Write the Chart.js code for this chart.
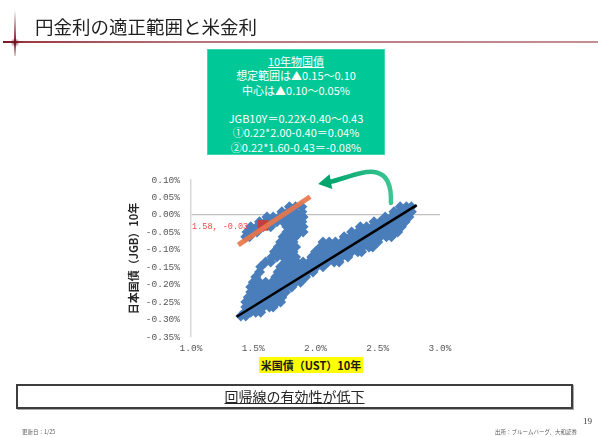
<!DOCTYPE html>
<html lang="ja">
<head>
<meta charset="utf-8">
<title>円金利の適正範囲と米金利</title>
<script src="https://cdn.jsdelivr.net/npm/chart.js@4.4.1/dist/chart.umd.min.js"></script>
<style>
    html, body { margin: 0; padding: 0; background: #fff; }
    #slide {
        position: relative; width: 598px; height: 437px; overflow: hidden;
        font-family: "Noto Sans CJK JP", "Noto Sans", sans-serif; color: #1f1f1f;
    }
    #scatter { position: absolute; left: 0; top: 0; }
    .rule-h {
        position: absolute; left: 3px; top: 41px; width: 595px; height: 2px;
        background: linear-gradient(to right, #7a1424 0%, #9c3a45 4%, #b7727a 30%, #c48f95 100%);
    }
    .rule-v {
        position: absolute; left: 14px; top: 10px; width: 2px; height: 46px;
        background: linear-gradient(to bottom, rgba(122,20,36,0) 0%, rgba(122,20,36,0.55) 40%, #7a1424 70%, rgba(122,20,36,0.2) 100%);
        filter: blur(0.4px);
    }
    .rule-glow {
        position: absolute; left: 10px; top: 38px; width: 10px; height: 9px; border-radius: 50%;
        background: radial-gradient(circle, rgba(110,15,30,0.85) 0%, rgba(110,15,30,0) 70%);
    }
    #title {
        position: absolute; left: 35px; top: 15px; margin: 0;
        font-size: 18.5px; font-weight: 400; line-height: 1.2; color: #1f1f1f;
    }
    #note {
        position: absolute; left: 207px; top: 49px; width: 178px; height: 106px;
        box-sizing: border-box; padding-top: 5px;
        background: #00C896; color: #fff; text-align: center;
        font-size: 11px; line-height: 14.3px;
        box-shadow: inset 0 0 0 1px rgba(255,255,255,0.25);
    }
    #note .head { text-decoration: underline; }
    #xTitle {
        position: absolute; left: 259px; top: 357px; width: 104px; height: 16px;
        background: #FFFF00; text-align: center;
        font-size: 11px; font-weight: 700; line-height: 16px; color: #1a1a1a;
    }
    #summary {
        position: absolute; left: 16px; top: 384px; width: 557px; height: 25px;
        box-sizing: border-box; border: 2px solid #3d3d3d; text-align: center;
        font-size: 14px; line-height: 21px; color: #262626;
        box-shadow: 1px 1px 0 #a8a8a8;
    }
    #summary span { text-decoration: underline; }
    #updated, #source {
        position: absolute; top: 429px; font-size: 5.5px; line-height: 7px; color: #5a5a5a;
    }
    #updated { left: 22px; }
    #source { right: 21px; }
    #page {
        position: absolute; left: 583px; top: 416px;
        font-family: "Liberation Serif", "DejaVu Serif", serif; font-size: 9px; color: #3a3a3a;
    }
</style>
</head>
<body>
<div id="slide">
    <canvas id="scatter" width="598" height="437"></canvas>
    <div class="rule-h"></div>
    <div class="rule-v"></div>
    <div class="rule-glow"></div>
    <h1 id="title">円金利の適正範囲と米金利</h1>
    <div id="note">
        <div class="head">10年物国債</div>
        <div>想定範囲は▲0.15～0.10</div>
        <div>中心は▲0.10～0.05%</div>
        <div>&nbsp;</div>
        <div>JGB10Y＝0.22X-0.40～0.43</div>
        <div>①0.22*2.00-0.40＝0.04%</div>
        <div>②0.22*1.60-0.43＝-0.08%</div>
    </div>
    <div id="xTitle">米国債（UST）10年</div>
    <div id="summary"><span>回帰線の有効性が低下</span></div>
    <div id="updated">更新日：1/25</div>
    <div id="source">出所：ブルームバーグ、大和証券</div>
    <div id="page">19</div>
</div>

<script>
// ----------------------------------------------------
// DATA (% yields)
// ----------------------------------------------------
const ustYield = [
    1.79, 1.84, 1.89, 2.68, 2.73, 2.77,
    1.73, 1.78, 1.83, 1.89, 2.63, 2.68, 2.73, 2.77,
    1.61, 1.66, 1.71, 1.76, 1.81, 1.85, 1.90, 2.56, 2.61, 2.66, 2.71, 2.75,
    1.55, 1.60, 1.65, 1.69, 1.74, 1.79, 1.84, 1.89, 2.47, 2.52, 2.56, 2.61, 2.66, 2.72,
    1.48, 1.53, 1.58, 1.64, 1.77, 1.81, 1.86, 1.90, 2.36, 2.41, 2.46, 2.51, 2.56, 2.60, 2.65, 2.69,
    1.45, 1.50, 1.53, 1.77, 1.82, 1.87, 1.90, 2.29, 2.34, 2.39, 2.44, 2.48, 2.53, 2.58, 2.63, 2.66,
    1.44, 1.47, 1.74, 1.79, 1.84, 2.23, 2.28, 2.33, 2.38, 2.43, 2.48, 2.52, 2.57, 2.61,
    1.72, 1.77, 1.82, 2.06, 2.11, 2.16, 2.21, 2.26, 2.31, 2.35, 2.40, 2.45, 2.50,
    1.70, 1.75, 1.80, 1.84, 2.04, 2.09, 2.14, 2.19, 2.23, 2.28, 2.33, 2.38, 2.43, 2.46,
    1.67, 1.72, 1.77, 1.82, 2.00, 2.05, 2.10, 2.15, 2.19, 2.24, 2.29, 2.34, 2.37,
    1.65, 1.69, 1.74, 1.79, 1.84, 1.97, 2.02, 2.06, 2.11, 2.16, 2.21, 2.26,
    1.60, 1.64, 1.76, 1.81, 1.85, 1.90, 1.95, 2.00, 2.05, 2.10, 2.15, 2.19,
    1.56, 1.72, 1.77, 1.81, 1.86, 1.91, 1.96, 2.01, 2.06,
    1.55, 1.70, 1.75, 1.80, 1.85, 1.90, 1.94, 1.98,
    1.52, 1.68, 1.73, 1.77, 1.82, 1.87, 1.92,
    1.50, 1.55, 1.60, 1.65, 1.69, 1.74, 1.79, 1.84, 1.88,
    1.48, 1.53, 1.58, 1.63, 1.68, 1.73, 1.77, 1.81,
    1.48, 1.52, 1.57, 1.62, 1.67, 1.72, 1.76,
    1.46, 1.51, 1.56, 1.60, 1.65, 1.70, 1.73,
    1.44, 1.49, 1.54, 1.59, 1.64, 1.69, 1.72,
    1.44, 1.48, 1.53, 1.58, 1.63, 1.66,
    1.43, 1.48, 1.52, 1.56,
    1.40, 1.44
];

const jgbYield = [
    0.023, 0.023, 0.023, 0.023, 0.023, 0.023,
    0.009, 0.009, 0.009, 0.009, 0.009, 0.009, 0.009, 0.009,
    -0.006, -0.006, -0.006, -0.006, -0.006, -0.006, -0.006, -0.006, -0.006, -0.006, -0.006, -0.006,
    -0.020, -0.020, -0.020, -0.020, -0.020, -0.020, -0.020, -0.020, -0.020, -0.020, -0.020, -0.020, -0.020, -0.020,
    -0.034, -0.034, -0.034, -0.034, -0.034, -0.034, -0.034, -0.034, -0.034, -0.034, -0.034, -0.034, -0.034, -0.034, -0.034, -0.034,
    -0.049, -0.049, -0.049, -0.049, -0.049, -0.049, -0.049, -0.049, -0.049, -0.049, -0.049, -0.049, -0.049, -0.049, -0.049, -0.049,
    -0.063, -0.063, -0.063, -0.063, -0.063, -0.063, -0.063, -0.063, -0.063, -0.063, -0.063, -0.063, -0.063, -0.063,
    -0.078, -0.078, -0.078, -0.078, -0.078, -0.078, -0.078, -0.078, -0.078, -0.078, -0.078, -0.078, -0.078,
    -0.092, -0.092, -0.092, -0.092, -0.092, -0.092, -0.092, -0.092, -0.092, -0.092, -0.092, -0.092, -0.092, -0.092,
    -0.106, -0.106, -0.106, -0.106, -0.106, -0.106, -0.106, -0.106, -0.106, -0.106, -0.106, -0.106, -0.106,
    -0.121, -0.121, -0.121, -0.121, -0.121, -0.121, -0.121, -0.121, -0.121, -0.121, -0.121, -0.121,
    -0.135, -0.135, -0.135, -0.135, -0.135, -0.135, -0.135, -0.135, -0.135, -0.135, -0.135, -0.135,
    -0.149, -0.149, -0.149, -0.149, -0.149, -0.149, -0.149, -0.149, -0.149,
    -0.164, -0.164, -0.164, -0.164, -0.164, -0.164, -0.164, -0.164,
    -0.178, -0.178, -0.178, -0.178, -0.178, -0.178, -0.178,
    -0.193, -0.193, -0.193, -0.193, -0.193, -0.193, -0.193, -0.193, -0.193,
    -0.207, -0.207, -0.207, -0.207, -0.207, -0.207, -0.207, -0.207,
    -0.221, -0.221, -0.221, -0.221, -0.221, -0.221, -0.221,
    -0.236, -0.236, -0.236, -0.236, -0.236, -0.236, -0.236,
    -0.250, -0.250, -0.250, -0.250, -0.250, -0.250, -0.250,
    -0.264, -0.264, -0.264, -0.264, -0.264, -0.264,
    -0.279, -0.279, -0.279, -0.279,
    -0.290, -0.290
];

// full-period fit and the recent fit
const regressionX = [1.367, 2.813];
const regressionY = [-0.292, 0.028];
const recentFitX = [1.380, 1.957];
const recentFitY = [-0.086, 0.052];

// latest observation [UST, JGB]
const latestPoint = [1.58, -0.03];

// curved arrow path (UST, JGB), cubic bezier
const arrowCurve = [[2.606, 0.034], [2.622, 0.180], [2.293, 0.106], [2.108, 0.094]];

const xTicks = [1.0, 1.5, 2.0, 2.5, 3.0];
const yTicks = [0.10, 0.05, 0.00, -0.05, -0.10, -0.15, -0.20, -0.25, -0.30, -0.35];

// ----------------------------------------------------
// CHART
// ----------------------------------------------------
const tickFont = { family: "'Liberation Mono', 'DejaVu Sans Mono', monospace", size: 9.5 };

const overlay = {
    id: 'overlay',
    afterDatasetsDraw(chart) {
        const { ctx, scales: { x, y } } = chart;
        ctx.save();

        // value label beside the latest point
        const px = x.getPixelForValue(latestPoint[0]);
        const py = y.getPixelForValue(latestPoint[1]);
        ctx.font = "8.5px 'Liberation Mono', monospace";
        ctx.fillStyle = '#EE4B4B';
        ctx.textAlign = 'right';
        ctx.textBaseline = 'middle';
        ctx.fillText(latestPoint[0].toFixed(2) + ', ' + latestPoint[1].toFixed(2), px - 15, py + 1);

        // green arrow: from the top of the main band back to the recent cluster
        const p = arrowCurve.map(([vx, vy]) => [x.getPixelForValue(vx), y.getPixelForValue(vy)]);
        const grad = ctx.createLinearGradient(p[3][0], 0, p[0][0], 0);
        grad.addColorStop(0, '#00A56E');
        grad.addColorStop(1, '#3CC592');
        ctx.strokeStyle = grad;
        ctx.lineWidth = 4.5;
        ctx.lineCap = 'round';
        ctx.beginPath();
        ctx.moveTo(p[0][0], p[0][1]);
        ctx.bezierCurveTo(p[1][0], p[1][1], p[2][0], p[2][1], p[3][0], p[3][1]);
        ctx.stroke();

        const ang = Math.atan2(p[3][1] - p[2][1], p[3][0] - p[2][0]);
        const cx = p[3][0], cy = p[3][1];
        ctx.fillStyle = '#00A56E';
        ctx.beginPath();
        ctx.moveTo(cx + Math.cos(ang) * 11, cy + Math.sin(ang) * 11);
        ctx.lineTo(cx - Math.cos(ang) * 2 + Math.cos(ang + Math.PI / 2) * 7.5,
                   cy - Math.sin(ang) * 2 + Math.sin(ang + Math.PI / 2) * 7.5);
        ctx.lineTo(cx - Math.cos(ang) * 2 + Math.cos(ang - Math.PI / 2) * 7.5,
                   cy - Math.sin(ang) * 2 + Math.sin(ang - Math.PI / 2) * 7.5);
        ctx.closePath();
        ctx.fill();

        ctx.restore();
    }
};

const toPoints = (xs, ys) => xs.map((v, i) => ({ x: v, y: ys[i] }));

new Chart(document.getElementById('scatter'), {
    type: 'scatter',
    data: {
        datasets: [
            {
                type: 'line',
                data: toPoints(regressionX, regressionY),
                borderColor: '#000000',
                borderWidth: 2.5,
                pointRadius: 0,
                order: 0
            },
            {
                type: 'line',
                data: toPoints(recentFitX, recentFitY),
                borderColor: 'rgba(232,118,74,0.92)',
                borderWidth: 5,
                pointRadius: 0,
                order: 1
            },
            {
                data: [{ x: latestPoint[0], y: latestPoint[1] }],
                pointStyle: 'rect',
                pointRadius: 7.5,
                backgroundColor: '#C0413A',
                borderWidth: 0,
                order: 2
            },
            {
                data: toPoints(ustYield, jgbYield),
                pointStyle: 'rectRot',
                pointRadius: 5.5,
                backgroundColor: '#4A7EBB',
                borderWidth: 0,
                order: 3
            }
        ]
    },
    options: {
        responsive: false,
        animation: false,
        events: [],
        layout: { padding: { left: 122, right: 158, top: 180, bottom: 78 } },
        plugins: { legend: { display: false }, tooltip: { enabled: false } },
        scales: {
            x: {
                type: 'linear',
                min: 1.0,
                max: 3.0,
                afterBuildTicks: (s) => { s.ticks = xTicks.map(v => ({ value: v })); },
                afterFit: (s) => { s.height = 22; },
                ticks: {
                    font: tickFont,
                    color: '#595959',
                    padding: 6,
                    maxRotation: 0,
                    callback: (v) => v.toFixed(1) + '%'
                },
                grid: { display: false, drawTicks: false },
                border: { display: false }
            },
            y: {
                min: -0.35,
                max: 0.10,
                afterBuildTicks: (s) => { s.ticks = yTicks.map(v => ({ value: v })); },
                afterFit: (s) => { s.width = 69; },
                ticks: {
                    font: tickFont,
                    color: '#595959',
                    padding: 11,
                    callback: (v) => (Math.abs(v) < 1e-9 ? 0 : v).toFixed(2) + '%'
                },
                grid: {
                    drawTicks: false,
                    lineWidth: 1.2,
                    color: (c) => (c.tick && Math.abs(c.tick.value) < 1e-9 ? '#BFBFBF' : 'rgba(0,0,0,0)')
                },
                border: { display: true, color: '#D9D9D9', width: 1.5 },
                title: {
                    display: true,
                    text: '日本国債（JGB）10年',
                    color: '#262626',
                    padding: { top: 5, bottom: 0 },
                    font: { family: "'Noto Sans CJK JP', sans-serif", size: 11, weight: 'bold' }
                }
            }
        }
    },
    plugins: [overlay]
});
</script>
</body>
</html>
